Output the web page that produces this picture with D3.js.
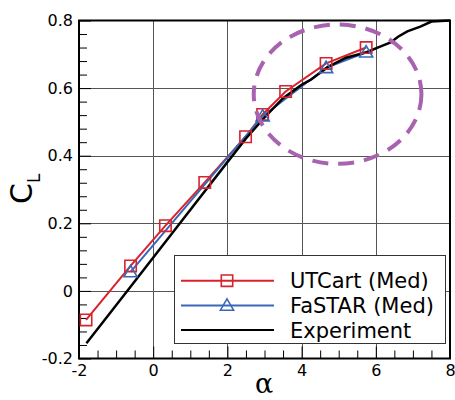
<!DOCTYPE html>
<meta charset="utf-8">
<style>
body { margin: 0; background: #fff; }
svg { display: block; }
.tick text { font-family: "DejaVu Sans", sans-serif; font-size: 16px; fill: #000; }
.legend text { font-family: "DejaVu Sans", sans-serif; font-size: 21px; }
</style>
<body>
<script src="https://d3js.org/d3.v7.min.js"></script>
<script>

// UTCart (Med) - red squares
var utAlpha = [-1.81, -0.61, 0.33, 1.39, 2.49, 2.95, 3.57, 4.66, 5.74];
var utCL    = [-0.086, 0.074, 0.193, 0.321, 0.456, 0.522, 0.590, 0.673, 0.720];

// FaSTAR (Med) - blue triangles
var faAlpha = [-0.61, 2.95, 4.66, 5.74];
var faCL    = [0.056, 0.517, 0.660, 0.706];

// Experiment - black line
var exAlpha = [-1.80, -0.70, 0.72, 2.0, 2.5, 3.0, 3.5, 4.0, 4.25, 4.7, 5.2, 5.75, 6.1, 6.4, 6.6, 6.85, 7.2, 7.5, 8.0];
var exCL    = [-0.155, 0.0, 0.2, 0.381, 0.451, 0.513, 0.570, 0.610, 0.625, 0.662, 0.690, 0.706, 0.722, 0.735, 0.752, 0.768, 0.782, 0.797, 0.800];

var xTicks = [-2, 0, 2, 4, 6, 8];
var yTicks = [-0.2, 0, 0.2, 0.4, 0.6, 0.8];

// highlight ellipse (data coords)
var ell = {cx: 4.97, cy: 0.582, rx: 2.26, ry: 0.206};

var legendNames = ["UTCart (Med)", "FaSTAR (Med)", "Experiment"];

var red = "#d8232d", blue = "#3a68b8", black = "#000";

var width = 455, height = 400;
var x = d3.scaleLinear().domain([-2, 8]).range([79, 450]);
var y = d3.scaleLinear().domain([-0.2, 0.8]).range([358.5, 20.5]);

var svg = d3.select("body").append("svg")
    .attr("width", width)
    .attr("height", height);

// grid
var grid = svg.append("g").attr("stroke", "#555").attr("stroke-width", 1);
xTicks.slice(1, -1).forEach(function(t) {
  grid.append("line")
      .attr("x1", Math.round(x(t)) + 0.5).attr("x2", Math.round(x(t)) + 0.5)
      .attr("y1", y(-0.2)).attr("y2", y(0.8));
});
yTicks.slice(1, -1).forEach(function(t) {
  grid.append("line")
      .attr("y1", Math.round(y(t)) + 0.5).attr("y2", Math.round(y(t)) + 0.5)
      .attr("x1", x(-2)).attr("x2", x(8));
});

// minor ticks
var xMinor = d3.range(-2, 8.01, 0.5).filter(function(v) { return v % 2 !== 0; });
var yMinor = d3.range(-0.2, 0.801, 0.04).filter(function(v) { return Math.abs(Math.round(v * 5) - v * 5) > 1e-6; });

svg.append("g")
    .attr("transform", "translate(0," + y(-0.2) + ")")
    .call(d3.axisBottom(x).tickValues(xMinor).tickSize(-8).tickFormat(""))
    .call(function(g) { g.select(".domain").remove(); });
svg.append("g")
    .attr("transform", "translate(" + x(-2) + ",0)")
    .call(d3.axisLeft(y).tickValues(yMinor).tickSize(-8).tickFormat(""))
    .call(function(g) { g.select(".domain").remove(); });

// plain hyphen minus like the original
function fmt(d) {
  var s = d === 0 ? "0" : (Number.isInteger(d) ? String(d) : d.toFixed(1));
  return s.replace("\u2212", "-");
}

// major axes
svg.append("g")
    .attr("transform", "translate(0," + y(-0.2) + ")")
    .call(d3.axisBottom(x).tickValues(xTicks).tickSize(-12).tickPadding(6).tickFormat(fmt))
    .call(function(g) { g.select(".domain").remove(); });
svg.append("g")
    .attr("transform", "translate(" + x(-2) + ",0)")
    .call(d3.axisLeft(y).tickValues(yTicks).tickSize(-12).tickPadding(6).tickFormat(fmt))
    .call(function(g) { g.select(".domain").remove(); });

// frame
svg.append("rect")
    .attr("x", x(-2)).attr("y", y(0.8))
    .attr("width", x(8) - x(-2)).attr("height", y(-0.2) - y(0.8))
    .attr("fill", "none").attr("stroke", "#000").attr("stroke-width", 2);

var line = d3.line()
    .x(function(d) { return x(d[0]); })
    .y(function(d) { return y(d[1]); });

var ut = d3.zip(utAlpha, utCL), fa = d3.zip(faAlpha, faCL), ex = d3.zip(exAlpha, exCL);

svg.append("path").datum(ut).attr("d", line)
    .attr("fill", "none").attr("stroke", red).attr("stroke-width", 2);
svg.append("path").datum(fa).attr("d", line)
    .attr("fill", "none").attr("stroke", blue).attr("stroke-width", 2);
svg.append("path").datum(ex).attr("d", line)
    .attr("fill", "none").attr("stroke", black).attr("stroke-width", 2.5);

var sq = d3.symbol().type(d3.symbolSquare).size(130);
var tri = d3.symbol().type(d3.symbolTriangle).size(75);

svg.selectAll(".sq").data(ut).enter().append("path")
    .attr("transform", function(d) { return "translate(" + x(d[0]) + "," + y(d[1]) + ")"; })
    .attr("d", sq).attr("fill", "none").attr("stroke", red).attr("stroke-width", 1.6);
svg.selectAll(".tri").data(fa).enter().append("path")
    .attr("transform", function(d) { return "translate(" + x(d[0]) + "," + (y(d[1]) + 1) + ")"; })
    .attr("d", tri).attr("fill", "none").attr("stroke", blue).attr("stroke-width", 1.6);

// ellipse annotation
svg.append("ellipse")
    .attr("cx", x(ell.cx)).attr("cy", y(ell.cy))
    .attr("rx", x(ell.cx + ell.rx) - x(ell.cx))
    .attr("ry", y(ell.cy) - y(ell.cy + ell.ry))
    .attr("fill", "none").attr("stroke", "#a862b0").attr("stroke-width", 4)
    .attr("stroke-dasharray", "16,10");

// legend
var lg = svg.append("g").attr("class", "legend");
lg.append("rect")
    .attr("x", 174.5).attr("y", 255.5).attr("width", 271).attr("height", 88)
    .attr("fill", "#fff").attr("stroke", "#333").attr("stroke-width", 1);
var colors = [red, blue, black];
legendNames.forEach(function(name, i) {
  var cy = 280.7 + i * 24.7;
  lg.append("line").attr("x1", 181).attr("x2", 274).attr("y1", cy).attr("y2", cy)
      .attr("stroke", colors[i]).attr("stroke-width", 2);
  if (i === 0) {
    lg.append("path").attr("transform", "translate(227," + cy + ")").attr("d", sq)
        .attr("fill", "none").attr("stroke", red).attr("stroke-width", 1.6);
  } else if (i === 1) {
    lg.append("path").attr("transform", "translate(227," + (cy + 1) + ")").attr("d", tri)
        .attr("fill", "none").attr("stroke", blue).attr("stroke-width", 1.6);
  }
  lg.append("text").attr("x", 290).attr("y", cy + 7.5).text(name);
});

// axis titles
var yt = svg.append("text")
    .attr("transform", "translate(32,204) rotate(-90)")
    .style("font-family", "DejaVu Sans, sans-serif")
    .style("font-size", "30px");
yt.append("tspan").text("C");
yt.append("tspan").attr("dy", 8).style("font-size", "17px").text("L");

svg.append("text")
    .attr("x", 264).attr("y", 393)
    .attr("text-anchor", "middle")
    .style("font-family", "DejaVu Serif, serif")
    .style("font-size", "27px")
    .text("α");

</script>
</body>
